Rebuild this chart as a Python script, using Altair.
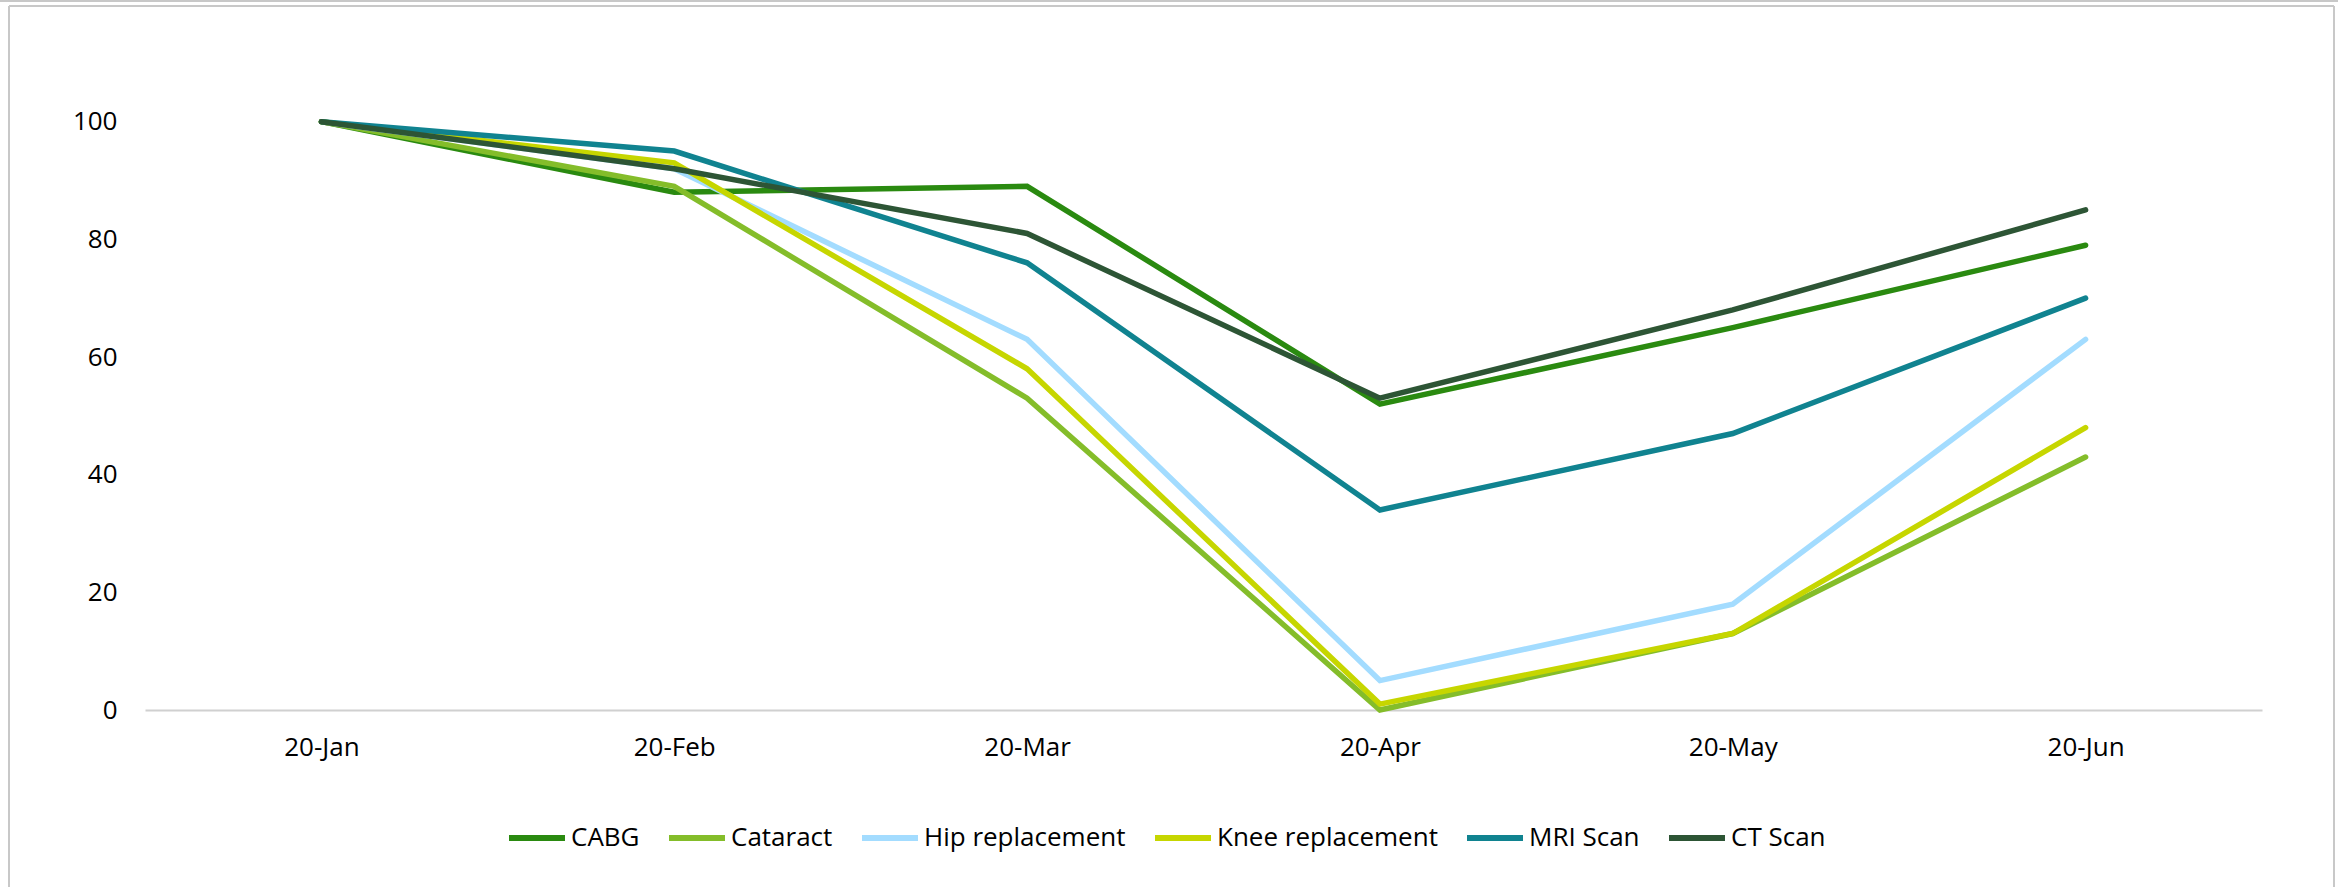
import altair as alt
import pandas as pd

months = ["20-Jan", "20-Feb", "20-Mar", "20-Apr", "20-May", "20-Jun"]
series = ["CABG", "Cataract", "Hip replacement", "Knee replacement", "MRI Scan", "CT Scan"]
cabg = [100, 88, 89, 52, 65, 79]
cataract = [100, 89, 53, 0, 13, 43]
hip = [100, 92, 63, 5, 18, 63]
knee = [100, 93, 58, 1, 13, 48]
mri = [100, 95, 76, 34, 47, 70]
ct = [100, 92, 81, 53, 68, 85]
colors = ["#2a8a10", "#84bd2a", "#a3dcff", "#c6d600", "#108390", "#2d5535"]
y_ticks = [0, 20, 40, 60, 80, 100]

values = [cabg, cataract, hip, knee, mri, ct]
rows = []
for name, vals in zip(series, values):
    for m, v in zip(months, vals):
        rows.append({"month": m, "series": name, "value": v})
df = pd.DataFrame(rows)

FONT = "Open Sans"

lines = alt.Chart(df).mark_line(strokeWidth=5.5, strokeCap="round", strokeJoin="miter").encode(
    x=alt.X("month:N", sort=months, scale=alt.Scale(type="point", padding=0.5),
            axis=alt.Axis(title=None, labelAngle=0, ticks=False, tickSize=0, labelPadding=24,
                          domainColor="#d0d0d0", domainWidth=2, grid=False,
                          labelFont=FONT, labelFontSize=26, labelColor="#000000")),
    y=alt.Y("value:Q", scale=alt.Scale(domain=[0, 120], nice=False),
            axis=alt.Axis(title=None, values=y_ticks, ticks=False, tickSize=0, domain=False, grid=False,
                          labelPadding=28, labelFont=FONT, labelFontSize=26, labelColor="#000000")),
    color=alt.Color("series:N", sort=series,
                    scale=alt.Scale(domain=series, range=colors),
                    legend=alt.Legend(title=None, orient="none", legendX=361, legendY=803,
                                      direction="horizontal", symbolType="stroke",
                                      symbolSize=3136, symbolStrokeWidth=6, labelLimit=0,
                                      labelFont=FONT, labelFontSize=26, labelColor="#000000",
                                      labelOffset=3, columnPadding=17, padding=0)),
)

border_color = "#c8c8c8"
border_top0 = alt.Chart(df).mark_rule(color=border_color, strokeWidth=2).encode(
    x=alt.value(-145), x2=alt.value(2193), y=alt.value(-3))
border_top = alt.Chart(df).mark_rule(color=border_color, strokeWidth=2).encode(
    x=alt.value(-136), x2=alt.value(2189), y=alt.value(2))
border_left = alt.Chart(df).mark_rule(color=border_color, strokeWidth=2).encode(
    x=alt.value(-136), y=alt.value(2), y2=alt.value(890))
border_right = alt.Chart(df).mark_rule(color=border_color, strokeWidth=2).encode(
    x=alt.value(2189), y=alt.value(2), y2=alt.value(890))

chart = alt.layer(border_top0, border_top, border_left, border_right, lines).properties(
    width=2117, height=706,
    autosize=alt.AutoSizeParams(type="none"),
    padding={"left": 145, "top": 4, "right": 76, "bottom": 177},
    background="#ffffff",
).configure_view(stroke=None)

chart.save("out.html", embed_options={"renderer": "svg", "actions": False})
